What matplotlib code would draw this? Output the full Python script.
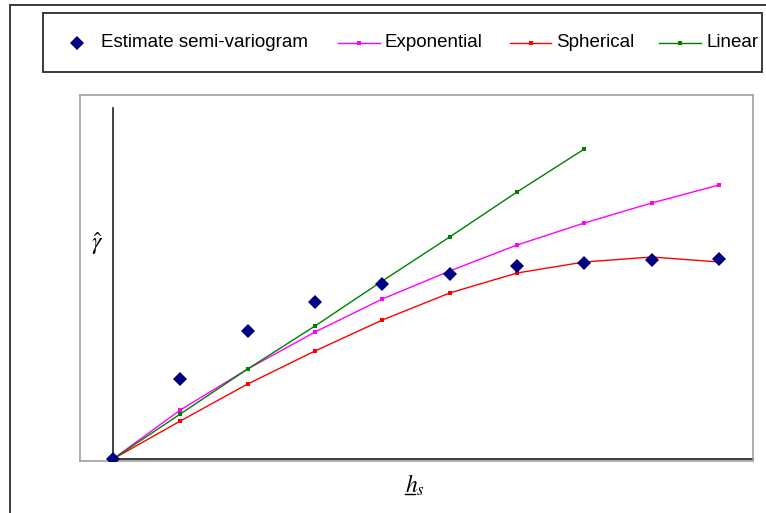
import matplotlib
matplotlib.use("Agg")
import matplotlib.pyplot as plt
from matplotlib.lines import Line2D
from matplotlib.patches import Rectangle

plt.rcParams['mathtext.fontset'] = 'stix'

# lag index and semivariance values
lags = [0, 1, 2, 3, 4, 5, 6, 7, 8, 9]
estimate = [0.00, 0.80, 1.28, 1.57, 1.75, 1.85, 1.93, 1.96, 1.99, 2.00]
exponential = [0.00, 0.49, 0.90, 1.27, 1.60, 1.88, 2.14, 2.36, 2.56, 2.74]
spherical = [0.00, 0.38, 0.75, 1.08, 1.39, 1.66, 1.86, 1.97, 2.02, 1.97]
linear_lags = [0, 1, 2, 3, 4, 5, 6, 7]
linear = [0.00, 0.45, 0.90, 1.33, 1.78, 2.22, 2.67, 3.10]

W, H = 766, 513
fig = plt.figure(figsize=(W / 100, H / 100), dpi=100)


def fx(x):
    return x / W


def fy(y):
    return 1 - y / H


# outer frame (left and top edges lie inside the canvas)
fig.add_artist(Rectangle((fx(9.5), fy(530)), fx(800), fy(5) - fy(530),
                         transform=fig.transFigure, fill=False,
                         edgecolor='#3a3a3a', lw=1.4))

ax = fig.add_axes([fx(80), fy(461), fx(753) - fx(80), fy(95) - fy(461)])
xmin, xmax = -0.49, 9.505
ax.set_xlim(xmin, xmax)
ax.set_ylim(-0.02, 3.64)
for s in ax.spines.values():
    s.set_color('#a0a0a0')
    s.set_linewidth(1.2)
ax.set_xticks([])
ax.set_yticks([])

# drawn axes through the origin
ax.plot([0, xmax], [0, 0], color='#3a3a3a', lw=1.4, zorder=2, clip_on=False)
ax.plot([0, 0], [0, 3.51], color='#202020', lw=1.2, zorder=2)

line_kw = dict(lw=1.0, marker='s', markersize=2.2, markeredgewidth=0, zorder=3)
ax.plot(lags, exponential, color='#ff00ff', **line_kw)
ax.plot(lags, spherical, color='#ff0000', **line_kw)
ax.plot(linear_lags, linear, color='#008000', **line_kw)
ax.plot(lags, estimate, linestyle='none', marker='D', markersize=7.5,
        color='#000080', markeredgewidth=0, zorder=5)

# axis symbols
fig.text(fx(97), fy(244), r'$\hat{\gamma}$', fontsize=17, ha='center', va='center')
fig.text(fx(415), fy(485), r'$h_s$', fontsize=17, ha='center', va='center')
fig.add_artist(Line2D([fx(405), fx(415)], [fy(494), fy(494)],
                      transform=fig.transFigure, color='black', lw=1))

# legend box
fig.add_artist(Rectangle((fx(43), fy(71.5)), fx(761.5) - fx(43), fy(13) - fy(71.5),
                         transform=fig.transFigure, fill=False,
                         edgecolor='#3a3a3a', lw=1.4))
ly = fy(43)
tfont = dict(family='Liberation Sans', fontsize=13.5, va='center', ha='left')
fig.add_artist(Line2D([fx(77)], [ly], transform=fig.transFigure, marker='D',
                      markersize=7.5, color='#000080', markeredgewidth=0))
fig.text(fx(101), ly, 'Estimate semi-variogram', **tfont)
entries = [(338, 380, 385, '#ff00ff', 'Exponential'),
           (510, 551, 556, '#ff0000', 'Spherical'),
           (659, 701, 706, '#008000', 'Linear')]
for x0, x1, xt, c, lab in entries:
    fig.add_artist(Line2D([fx(x0), fx(x1)], [ly, ly], transform=fig.transFigure,
                          color=c, lw=1.0))
    fig.add_artist(Line2D([fx((x0 + x1) / 2)], [ly], transform=fig.transFigure,
                          marker='s', markersize=2.5, markeredgewidth=0, color=c))
    fig.text(fx(xt), ly, lab, **tfont)

fig.savefig('out.png', dpi=100)
